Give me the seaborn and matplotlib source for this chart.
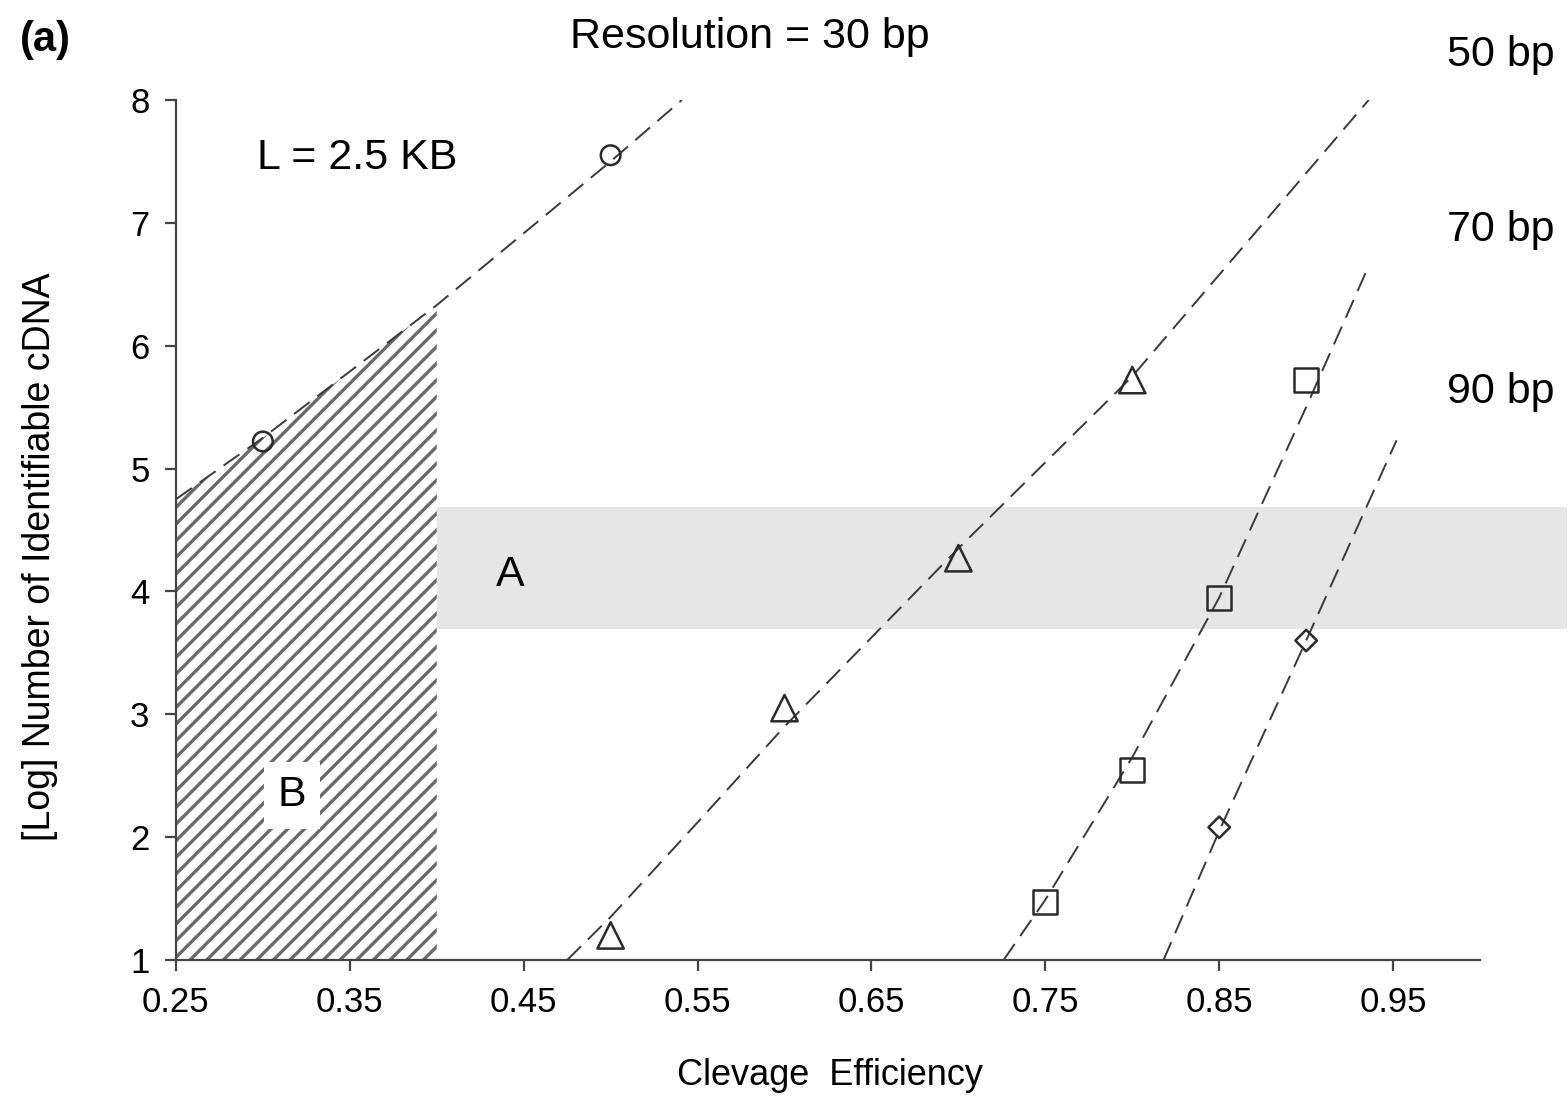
import numpy as np
import pandas as pd
import matplotlib
matplotlib.use("Agg")
import matplotlib.pyplot as plt
import seaborn as sns

# marker points per resolution
x_30 = [0.30, 0.50]
y_30 = [5.22, 7.55]
x_50 = [0.50, 0.60, 0.70, 0.80]
y_50 = [1.20, 3.05, 4.27, 5.72]
x_70 = [0.75, 0.80, 0.85, 0.90]
y_70 = [1.47, 2.55, 3.95, 5.72]
x_90 = [0.85, 0.90]
y_90 = [2.08, 3.60]

# dashed fitted curves
line30_x = [0.25, 0.30, 0.40, 0.50, 0.541]
line30_y = [4.75, 5.25, 6.33, 7.50, 8.00]
line50_x = [0.475, 0.50, 0.55, 0.60, 0.70, 0.80, 0.936]
line50_y = [1.00, 1.35, 2.12, 2.90, 4.35, 5.75, 8.00]
line70_x = [0.726, 0.75, 0.80, 0.85, 0.90, 0.936]
line70_y = [1.00, 1.49, 2.65, 3.95, 5.50, 6.65]
line90_x = [0.818, 0.85, 0.90, 0.952]
line90_y = [1.00, 2.05, 3.60, 5.23]

# regions
band_y = (3.69, 4.69)
band_x = (0.40, 1.05)
hatch_xmax = 0.40

x_ticks = [0.25, 0.35, 0.45, 0.55, 0.65, 0.75, 0.85, 0.95]
y_ticks = [1, 2, 3, 4, 5, 6, 7, 8]
res_labels = ["50 bp", "70 bp", "90 bp"]

sns.set_theme(style="ticks")
plt.rcParams['font.family'] = ['Liberation Sans', 'DejaVu Sans']
plt.rcParams['hatch.linewidth'] = 2.4
plt.rcParams['text.color'] = 'black'
plt.rcParams['axes.labelcolor'] = 'black'

fig = plt.figure(figsize=(15.68, 10.96), dpi=100)
ax = fig.add_axes([0.1122, 0.1241, 0.8317, 0.7847])

line_col = "#3a3a3a"

# grey band A
ax.fill_between(band_x, band_y[0], band_y[1], color="#e6e6e6", lw=0,
                clip_on=False, zorder=1)

# hatched region B under the 30 bp curve
hx = [x for x in line30_x if x <= hatch_xmax]
hy = [y for x, y in zip(line30_x, line30_y) if x <= hatch_xmax]
ax.fill_between(hx, 1, hy, facecolor="white", edgecolor="#6a6a6a",
                hatch="//", lw=0, zorder=1)

# dashed curves
for lx, ly in [(line30_x, line30_y), (line50_x, line50_y),
               (line70_x, line70_y), (line90_x, line90_y)]:
    sns.lineplot(x=lx, y=ly, ax=ax, color=line_col, lw=1.4,
                 linestyle=(0, (10, 5)), zorder=3, sort=False)

# markers
for mx, my, mk, s in [(x_30, y_30, "o", 200), (x_50, y_50, "^", 360),
                      (x_70, y_70, "s", 300), (x_90, y_90, "D", 120)]:
    sns.scatterplot(x=mx, y=my, ax=ax, marker=mk, s=s, facecolor="none",
                    edgecolor="#2a2a2a", linewidth=1.8, zorder=4)

ax.set_xlim(0.25, 1.0)
ax.set_ylim(1, 8)
ax.set_xticks(x_ticks)
ax.set_xticklabels([f"{t:.2f}" for t in x_ticks])
ax.set_yticks(y_ticks)
ax.tick_params(axis="both", labelsize=25, length=8, width=1.6,
               color="#444444", labelcolor="black", pad=11, direction="out")
for side in ["top", "right"]:
    ax.spines[side].set_visible(False)
for side in ["left", "bottom"]:
    ax.spines[side].set_linewidth(1.6)
    ax.spines[side].set_color("#444444")

ax.set_xlabel("Clevage  Efficiency", fontsize=26, va="center")
ax.xaxis.set_label_coords(0.5015, -0.134)
ax.set_ylabel("[Log] Number of Identifiable cDNA", fontsize=27, va="center")
ax.yaxis.set_label_coords(-0.104, 0.469)

# annotations
ax.text(0.354, 7.53, "L = 2.5 KB", fontsize=31, ha="center", va="center")
ax.text(0.442, 4.13, "A", fontsize=31, ha="center", va="center", zorder=5)
ax.text(0.3167, 2.34, "B", fontsize=31, ha="center", va="center", zorder=5,
        bbox=dict(facecolor="white", edgecolor="none", pad=10))

fig.text(0.0287, 0.9635, "(a)", fontsize=30, fontweight="bold",
         ha="center", va="center")
fig.text(0.478, 0.966, "Resolution = 30 bp", fontsize=31,
         ha="center", va="center")
for lab, fy in zip(res_labels, [0.950, 0.790, 0.642]):
    fig.text(0.957, fy, lab, fontsize=31, ha="center", va="center")

fig.savefig("out.png", dpi=100, facecolor="white")
